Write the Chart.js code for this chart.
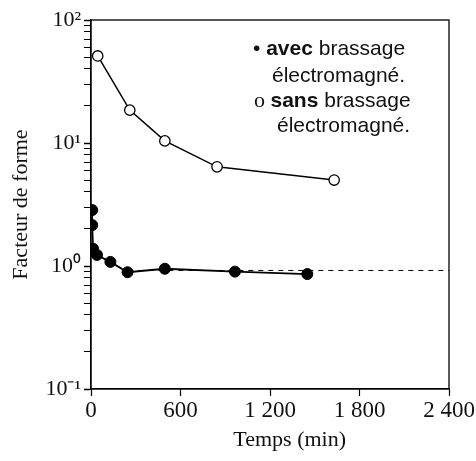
<!DOCTYPE html>
<html>
<head>
<meta charset="utf-8">
<script src="https://cdn.jsdelivr.net/npm/chart.js@4.4.1/dist/chart.umd.min.js"></script>
<style>
  html, body { margin: 0; padding: 0; background: #fff; }
  #wrap { width: 476px; height: 461px; }
</style>
</head>
<body>
<div id="wrap"><canvas id="c" width="476" height="461"></canvas></div>
<script>
// ---- data ----
const timeSans = [45, 260, 495, 845, 1630];            // min, open circles
const factorSans = [51, 18.5, 10.4, 6.4, 5.0];
const timeAvec = [8, 8, 14, 40, 130, 245, 495, 965, 1450]; // min, filled circles
const factorAvec = [2.85, 2.15, 1.38, 1.23, 1.08, 0.89, 0.95, 0.90, 0.86];
const timeRef = [250, 2400];                           // dashed reference line
const factorRef = [0.92, 0.92];
const xTicks = [0, 600, 1200, 1800, 2400];
const yDecades = [0.1, 1, 10, 100];
const yDecadeLabels = ['10\u207B\u00B9', '10\u2070', '10\u00B9', '10\u00B2'];
const legendLines = [
  { mark: '\u2022 ', bold: 'avec', rest: ' brassage' },
  { mark: '', bold: '', rest: 'électromagné.' },
  { mark: 'o ', bold: 'sans', rest: ' brassage' },
  { mark: '', bold: '', rest: 'électromagné.' }
];
const xTitle = 'Temps (min)';
const yTitle = 'Facteur de forme';

const toPts = (xs, ys) => xs.map((x, i) => ({ x: x, y: ys[i] }));
const SERIF = '"Liberation Serif", "Times New Roman", serif';
const SANS = '"Liberation Sans", Arial, sans-serif';

const frame = {
  id: 'frame',
  afterDraw(chart) {
    const { ctx, chartArea: a } = chart;
    ctx.save();
    ctx.strokeStyle = '#000';
    ctx.lineWidth = 1.3;
    ctx.strokeRect(a.left, a.top, a.right - a.left, a.bottom - a.top);
    // x axis title
    ctx.fillStyle = '#111';
    ctx.font = '22px ' + SERIF;
    ctx.textAlign = 'center';
    ctx.textBaseline = 'alphabetic';
    ctx.fillText(xTitle, a.left + (a.right - a.left) * 0.555, a.bottom + 57);
    // legend text
    const offsX = [162, 181, 163, 186];
    const offsY = [35, 62, 87, 112];
    ctx.textAlign = 'left';
    legendLines.forEach((ln, i) => {
      let x = a.left + offsX[i];
      const y = a.top + offsY[i];
      if (ln.mark) {
        ctx.font = (ln.mark.startsWith('o') ? '22px ' + SERIF : '21px ' + SANS);
        ctx.fillText(ln.mark, x, y);
        x += ctx.measureText(ln.mark).width;
      }
      if (ln.bold) {
        ctx.font = 'bold 21px ' + SANS;
        ctx.fillText(ln.bold, x, y);
        x += ctx.measureText(ln.bold).width;
      }
      ctx.font = '21px ' + SANS;
      ctx.fillText(ln.rest, x, y);
    });
    ctx.restore();
  }
};

const isDecade = v => Math.abs(Math.log10(v) - Math.round(Math.log10(v))) < 1e-6;

new Chart(document.getElementById('c'), {
  type: 'scatter',
  data: {
    datasets: [
      {
        label: 'sans brassage électromagné.',
        data: toPts(timeSans, factorSans),
        showLine: true,
        borderColor: '#000',
        borderWidth: 1.5,
        backgroundColor: '#fff',
        pointBackgroundColor: '#fff',
        pointBorderColor: '#000',
        pointBorderWidth: 1.3,
        pointRadius: 5.2,
        tension: 0
      },
      {
        label: 'avec brassage électromagné.',
        data: toPts(timeAvec, factorAvec),
        showLine: true,
        borderColor: '#000',
        borderWidth: 1.8,
        backgroundColor: '#000',
        pointBackgroundColor: '#000',
        pointBorderColor: '#000',
        pointBorderWidth: 1,
        pointRadius: 5.5,
        tension: 0
      },
      {
        label: 'référence',
        data: toPts(timeRef, factorRef),
        showLine: true,
        borderColor: '#000',
        borderWidth: 1,
        borderDash: [5, 5],
        pointRadius: 0,
        tension: 0
      }
    ]
  },
  options: {
    responsive: false,
    animation: false,
    layout: { padding: { top: 20, right: 27, left: 0, bottom: 0 } },
    plugins: { legend: { display: false }, tooltip: { enabled: false } },
    scales: {
      x: {
        type: 'linear',
        min: xTicks[0],
        max: xTicks[xTicks.length - 1],
        afterFit: s => { s.height = 72; },
        afterBuildTicks: s => { s.ticks = xTicks.map(v => ({ value: v })); },
        border: { display: true, color: '#000', width: 1.3 },
        grid: { drawOnChartArea: false, drawTicks: true, tickLength: 7, color: '#000', tickWidth: 1.2 },
        ticks: {
          autoSkip: false,
          maxRotation: 0,
          padding: 1,
          color: '#111',
          font: { family: SERIF, size: 23 },
          callback: v => v >= 1000 ? String(v).replace(/(\d)(\d{3})$/, '$1 $2') : String(v)
        },
        title: { display: false }
      },
      y: {
        type: 'logarithmic',
        min: yDecades[0],
        max: yDecades[yDecades.length - 1],
        afterFit: s => { s.width = 91; },
        afterBuildTicks: s => {
          const t = [];
          for (let d = 0; d < yDecades.length - 1; d++) {
            for (let m = 1; m <= 9; m++) {
              t.push({ value: parseFloat((m * yDecades[d]).toPrecision(4)) });
            }
          }
          t.push({ value: yDecades[yDecades.length - 1] });
          s.ticks = t;
        },
        border: { display: true, color: '#000', width: 1.3 },
        grid: {
          drawOnChartArea: false, drawTicks: true, tickLength: 7, color: '#000',
          tickWidth: ctx => (ctx.tick && isDecade(ctx.tick.value)) ? 1.5 : 1
        },
        ticks: {
          autoSkip: false,
          padding: 3,
          color: '#111',
          font: { family: SERIF, size: 22 },
          callback: v => {
            if (!isDecade(v)) return '';
            const i = yDecades.findIndex(d => Math.abs(d - v) / d < 1e-6);
            return i >= 0 ? yDecadeLabels[i] : '';
          }
        },
        title: {
          display: true,
          text: yTitle,
          color: '#111',
          font: { family: SERIF, size: 22 },
          padding: { top: 8, bottom: 0 }
        }
      }
    }
  },
  plugins: [frame]
});
</script>
</body>
</html>
